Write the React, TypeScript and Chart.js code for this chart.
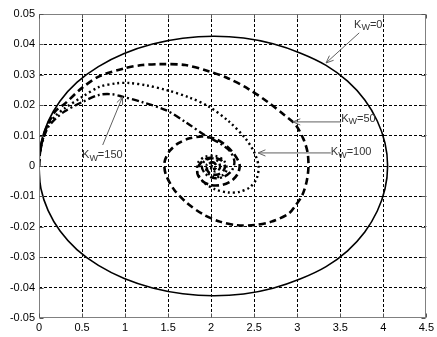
import React, { useEffect, useRef } from "react";
import { Chart, registerables } from "chart.js";

Chart.register(...registerables);

// ---- Data ----
const xTicks = [0, 0.5, 1, 1.5, 2, 2.5, 3, 3.5, 4, 4.5];
const yTicks = [-0.05, -0.04, -0.03, -0.02, -0.01, 0, 0.01, 0.02, 0.03, 0.04, 0.05];

// Kw = 0 (solid, closed orbit)
const kw0X = [0, 0.022, 0.105, 0.245, 0.44, 0.69, 0.99, 1.32, 1.67, 2.025, 2.377, 2.718, 3.04, 3.335, 3.585, 3.785, 3.93, 4.02, 4.05,
  4.02, 3.93, 3.785, 3.585, 3.335, 3.04, 2.718, 2.377, 2.025, 1.67, 1.32, 0.99, 0.69, 0.44, 0.245, 0.105, 0.022, 0];
const kw0Y = [0, 0.0074, 0.0146, 0.0214, 0.0275, 0.0327, 0.037, 0.0401, 0.042, 0.0427, 0.0421, 0.0402, 0.0371, 0.0331, 0.0279, 0.0217, 0.0148, 0.0075, 0,
  -0.0075, -0.0148, -0.0217, -0.0279, -0.0331, -0.0371, -0.0402, -0.0421, -0.0427, -0.042, -0.0401, -0.037, -0.0327, -0.0275, -0.0214, -0.0146, -0.0074, 0];

// Kw = 50 (dashed spiral)
const kw50X = [0, 0.01, 0.04, 0.1, 0.19, 0.3, 0.5, 0.7, 1.0, 1.2, 1.4, 1.7, 1.97, 2.2, 2.43, 2.66, 2.85, 2.98, 3.07, 3.12, 3.13,
  3.11, 3.06, 2.98, 2.9, 2.7, 2.51, 2.3, 2.1, 1.9, 1.72, 1.57, 1.47, 1.46, 1.52, 1.62, 1.75, 1.9, 2.05, 2.17, 2.27,
  2.33, 2.31, 2.24, 2.13, 2.0, 1.9, 1.84, 1.86, 1.93, 2.03, 2.12, 2.16, 2.13, 2.06, 1.99, 1.95, 1.97, 2.02, 2.06, 2.05, 2.02];
const kw50Y = [0, 0.004, 0.0085, 0.0135, 0.018, 0.0205, 0.0257, 0.0295, 0.0322, 0.0332, 0.0335, 0.0332, 0.0312, 0.0288, 0.0254, 0.021, 0.0168, 0.0136, 0.009, 0.0045, -0.0005,
  -0.005, -0.0095, -0.013, -0.0157, -0.0183, -0.0194, -0.0195, -0.0183, -0.0158, -0.0122, -0.0078, -0.0025, 0.0015, 0.005, 0.0075, 0.0091, 0.0097, 0.0089, 0.0068, 0.0038,
  0.0005, -0.0025, -0.0048, -0.0062, -0.0063, -0.005, -0.0025, 0.0003, 0.0022, 0.0028, 0.0018, -0.0002, -0.002, -0.0029, -0.0025, -0.001, 0.0006, 0.0012, 0.0003, -0.0008, -0.001];

// Kw = 100 (dotted spiral)
const kw100X = [0, 0.01, 0.04, 0.1, 0.19, 0.3, 0.5, 0.7, 0.9, 1.05, 1.25, 1.48, 1.75, 1.97, 2.2, 2.4, 2.5, 2.55, 2.53, 2.45, 2.33, 2.2, 2.05, 1.92, 1.84,
  1.85, 1.93, 2.05, 2.15, 2.18, 2.12, 2.02, 1.95, 1.95, 2.01, 2.06, 2.04, 2.0];
const kw100Y = [0, 0.004, 0.0083, 0.013, 0.0165, 0.019, 0.0227, 0.026, 0.0272, 0.0273, 0.0265, 0.025, 0.0225, 0.0196, 0.0148, 0.009, 0.0045, 0, -0.004, -0.007, -0.0085, -0.0087, -0.0077, -0.0055, -0.0022,
  0.0012, 0.003, 0.0033, 0.0017, -0.0012, -0.0033, -0.0035, -0.0018, 0.0005, 0.0012, 0.0003, -0.001, -0.0008];

// Kw = 150 (dash-dot spiral)
const kw150X = [0, 0.01, 0.04, 0.1, 0.19, 0.3, 0.5, 0.7, 0.85, 0.97, 1.2, 1.48, 1.7, 1.94, 2.1, 2.22, 2.27, 2.24, 2.15, 2.03, 1.93, 1.89, 1.93, 2.02, 2.09, 2.1, 2.05, 2.0, 2.01];
const kw150Y = [0, 0.004, 0.008, 0.0125, 0.0155, 0.018, 0.021, 0.0234, 0.0236, 0.0228, 0.021, 0.0183, 0.0145, 0.0099, 0.0075, 0.0048, 0.0015, -0.0015, -0.0035, -0.004, -0.0025, 0, 0.0018, 0.0025, 0.0012, -0.0008, -0.0018, -0.001, 0.0003];

// Annotation labels: "K_W=<value>" with arrows (data coordinates)
const labelValues = ["0", "50", "100", "150"];
const labelTextX = [3.66, 3.51, 3.39, 0.5];
const labelTextY = [0.0464, 0.0156, 0.0045, 0.0036];
const arrowTailX = [3.72, 3.51, 3.39, 0.74];
const arrowTailY = [0.0438, 0.0145, 0.0043, 0.0069];
const arrowTipX = [3.335, 2.95, 2.545, 0.97];
const arrowTipY = [0.0339, 0.0145, 0.0043, 0.0227];

const toPoints = (xs: number[], ys: number[]) => xs.map((x, i) => ({ x, y: ys[i] }));

const FONT = "'Liberation Sans', Arial, Helvetica, sans-serif";

const framePlugin = {
  id: "frameAndLabels",
  afterDatasetsDraw(chart: any) {
    const { ctx, chartArea, scales } = chart;
    const xs = scales.x;
    const ys = scales.y;
    ctx.save();
    // axes box
    ctx.strokeStyle = "#808080";
    ctx.lineWidth = 1;
    ctx.setLineDash([]);
    const l = Math.round(chartArea.left) + 0.5;
    const t = Math.round(chartArea.top) + 0.5;
    const r = Math.round(chartArea.right) - 0.5;
    const b = Math.round(chartArea.bottom) - 0.5;
    ctx.strokeRect(l, t, r - l, b - t);
    // small inner tick marks
    ctx.strokeStyle = "#555";
    xTicks.forEach((v) => {
      const px = Math.round(xs.getPixelForValue(v)) + 0.5;
      ctx.beginPath();
      ctx.moveTo(px, b); ctx.lineTo(px, b - 4);
      ctx.moveTo(px, t); ctx.lineTo(px, t + 4);
      ctx.stroke();
    });
    yTicks.forEach((v) => {
      const py = Math.round(ys.getPixelForValue(v)) + 0.5;
      ctx.beginPath();
      ctx.moveTo(l, py); ctx.lineTo(l + 4, py);
      ctx.moveTo(r, py); ctx.lineTo(r - 4, py);
      ctx.stroke();
    });

    // annotations
    labelValues.forEach((val, i) => {
      const tx = xs.getPixelForValue(arrowTailX[i]);
      const ty = ys.getPixelForValue(arrowTailY[i]);
      const hx = xs.getPixelForValue(arrowTipX[i]);
      const hy = ys.getPixelForValue(arrowTipY[i]);
      ctx.strokeStyle = "#606060";
      ctx.lineWidth = 1;
      ctx.beginPath();
      ctx.moveTo(tx, ty);
      ctx.lineTo(hx, hy);
      ctx.stroke();
      const ang = Math.atan2(ty - hy, tx - hx);
      const len = 8;
      const spread = 0.4;
      ctx.beginPath();
      ctx.moveTo(hx + len * Math.cos(ang + spread), hy + len * Math.sin(ang + spread));
      ctx.lineTo(hx, hy);
      ctx.lineTo(hx + len * Math.cos(ang - spread), hy + len * Math.sin(ang - spread));
      ctx.stroke();

      // text K_W=val
      let px = xs.getPixelForValue(labelTextX[i]);
      const py = ys.getPixelForValue(labelTextY[i]);
      ctx.fillStyle = "#333";
      ctx.textBaseline = "middle";
      ctx.textAlign = "left";
      ctx.font = `11px ${FONT}`;
      ctx.fillText("K", px, py);
      px += ctx.measureText("K").width;
      ctx.font = `9px ${FONT}`;
      ctx.fillText("W", px, py + 3);
      px += ctx.measureText("W").width;
      ctx.font = `11px ${FONT}`;
      ctx.fillText("=" + val, px, py);
    });
    ctx.restore();
  },
};

export default function App() {
  const ref = useRef<HTMLCanvasElement | null>(null);

  useEffect(() => {
    document.body.style.margin = "0";
    const canvas = ref.current;
    if (!canvas) return;
    const edgeColor = (min: number, max: number) => (ctx: any) => {
      const v = ctx.tick ? ctx.tick.value : 0;
      if (Math.abs(v - min) < 1e-9 || Math.abs(v - max) < 1e-9) return "rgba(0,0,0,0)";
      return "#000";
    };
    const chart = new Chart(canvas, {
      type: "scatter",
      data: {
        datasets: [
          {
            label: "Kw=0",
            data: toPoints(kw0X, kw0Y),
            showLine: true,
            borderColor: "#000",
            borderWidth: 1.6,
            pointRadius: 0,
            tension: 0.4,
          },
          {
            label: "Kw=50",
            data: toPoints(kw50X, kw50Y),
            showLine: true,
            borderColor: "#000",
            borderWidth: 2.6,
            borderDash: [7, 4],
            pointRadius: 0,
            tension: 0.3,
          },
          {
            label: "Kw=100",
            data: toPoints(kw100X, kw100Y),
            showLine: true,
            borderColor: "#000",
            borderWidth: 2.4,
            borderDash: [2, 3],
            pointRadius: 0,
            tension: 0.3,
          },
          {
            label: "Kw=150",
            data: toPoints(kw150X, kw150Y),
            showLine: true,
            borderColor: "#000",
            borderWidth: 2.4,
            borderDash: [7, 3, 2, 3],
            pointRadius: 0,
            tension: 0.3,
          },
        ],
      },
      options: {
        animation: false,
        responsive: false,
        maintainAspectRatio: false,
        layout: { padding: { top: 14, right: 8, left: 0, bottom: 0 } },
        plugins: {
          legend: { display: false },
          tooltip: { enabled: false },
          title: { display: false },
        },
        scales: {
          x: {
            type: "linear",
            min: 0,
            max: 4.5,
            afterFit: (s: any) => { s.height = 19; },
            afterBuildTicks: (s: any) => { s.ticks = xTicks.map((v) => ({ value: v })); },
            ticks: {
              color: "#000",
              font: { family: FONT, size: 11 },
              padding: 3,
              maxRotation: 0,
              autoSkip: false,
              callback: (v: any) => String(Number(Number(v).toFixed(1))),
            },
            grid: { color: edgeColor(0, 4.5), lineWidth: 1, drawTicks: false },
            border: { display: false, dash: [3, 2] },
          },
          y: {
            type: "linear",
            min: -0.05,
            max: 0.05,
            afterFit: (s: any) => { s.width = 39; },
            afterBuildTicks: (s: any) => { s.ticks = yTicks.map((v) => ({ value: v })); },
            ticks: {
              color: "#000",
              font: { family: FONT, size: 11 },
              padding: 4,
              autoSkip: false,
              callback: (v: any) => String(Number(Number(v).toFixed(2))),
            },
            grid: { color: edgeColor(-0.05, 0.05), lineWidth: 1, drawTicks: false },
            border: { display: false, dash: [3, 2] },
          },
        },
      },
      plugins: [framePlugin],
    });
    return () => chart.destroy();
  }, []);

  return (
    <div style={{ width: 437, height: 337, background: "#fff" }}>
      <canvas ref={ref} width={437} height={337} style={{ display: "block" }} />
    </div>
  );
}
